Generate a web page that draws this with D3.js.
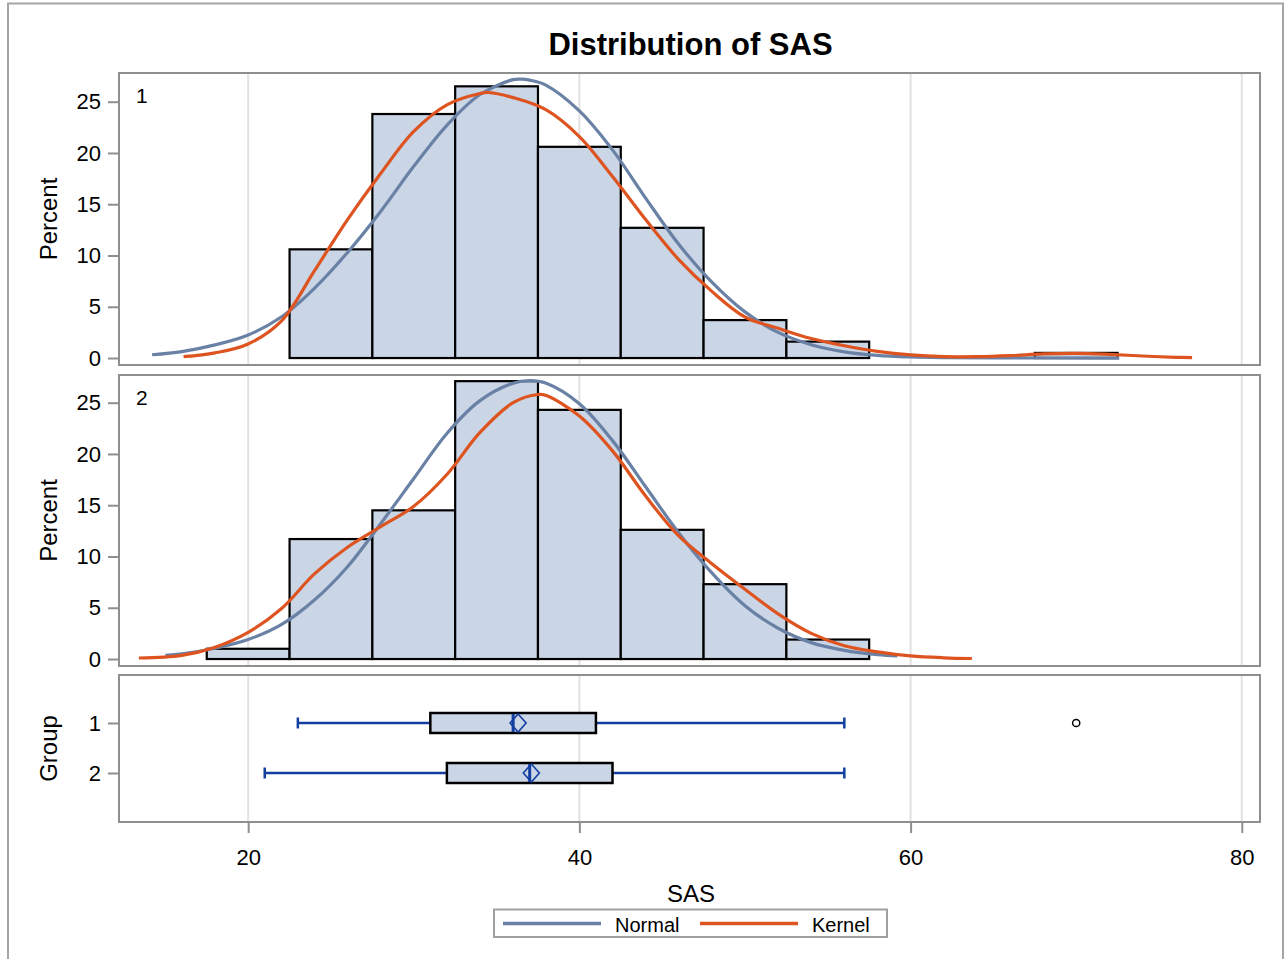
<!DOCTYPE html>
<html>
<head>
<meta charset="utf-8">
<script src="https://cdn.jsdelivr.net/npm/d3@7"></script>
<style>
  html, body { margin: 0; padding: 0; background: #fff; }
  svg text { font-family: "Liberation Sans", Arial, sans-serif; fill: #000; }
</style>
</head>
<body>
<svg id="chart" width="1285" height="959"></svg>
<script>
// ---- data ----
const groups = ["1", "2"];
const binLower = [17.5, 22.5, 27.5, 32.5, 37.5, 42.5, 47.5, 52.5, 57.5, 62.5, 67.5];
const binWidth = 5;
const percentGroup1 = [0, 10.6, 23.8, 26.5, 20.6, 12.7, 3.7, 1.6, 0, 0, 0.5];
const percentGroup2 = [1.0, 11.7, 14.5, 27.1, 24.3, 12.6, 7.3, 1.9, 0, 0, 0];

// fitted curves: [SAS, percent]
const normalGroup1 = [[14.2,0.32],[16,0.63],[18,1.28],[20,2.25],[22,4.0],[24,6.8],[26,10.3],[28,14.3],[30,18.7],[32,22.7],[34,25.7],[36,27.15],[36.5,27.2],[37,27.1],[38,26.6],[40,24.1],[42,20.3],[44,15.6],[46,11.1],[48,7.4],[50,4.5],[52,2.5],[54,1.3],[56,0.6],[58,0.25],[60,0.1],[62,0.04],[65,0.01],[72.6,0]];
const kernelGroup1 = [[16.1,0.13],[18,0.5],[20,1.37],[22,3.6],[24,8.5],[26,13.5],[28,18.0],[30,22.1],[32,24.7],[34,25.8],[34.5,25.9],[36,25.4],[38,24.2],[40,21.6],[42,17.7],[44,13.5],[46,9.6],[48,6.5],[50,4.0],[52,2.9],[54,1.9],[56,1.2],[58,0.65],[60,0.3],[62,0.13],[64,0.13],[66,0.23],[68,0.4],[70,0.46],[72,0.36],[74,0.2],[76,0.07],[77,0.03]];
const normalGroup2 = [[15,0.35],[16,0.5],[18,1.05],[20,1.9],[22,3.35],[24,5.75],[26,9.0],[28,13.2],[30,17.6],[32,22.0],[34,25.2],[36,26.9],[37,27.15],[38,26.9],[40,24.9],[42,21.3],[44,16.8],[46,12.3],[48,8.4],[50,5.2],[52,3.0],[54,1.6],[56,0.85],[58,0.43],[59.2,0.3]];
const kernelGroup2 = [[13.4,0.1],[16,0.36],[18,1.15],[20,2.6],[22,4.9],[24,8.3],[26,10.9],[28,12.9],[30,14.9],[32,18.0],[34,22.1],[36,25.0],[37.5,25.8],[38,25.7],[40,23.7],[42,20.3],[44,15.9],[46,12.0],[48,9.3],[50,6.8],[52,4.4],[54,2.5],[56,1.3],[58,0.7],[60,0.3],[62,0.12],[63.7,0.05]];

// box plot statistics per group
const whiskerLow = [23, 21];
const quartile1 = [31, 32];
const medians = [36, 37];
const quartile3 = [41, 42];
const whiskerHigh = [56, 56];
const means = [36.3, 37.1];
const outliers = [[70], []];

const xTicks = [20, 40, 60, 80];
const yTicks = [0, 5, 10, 15, 20, 25];

// ---- styling ----
const BAR_FILL = "#cad5e6";
const NORMAL_COLOR = "#6a81a6";
const KERNEL_COLOR = "#de5420";
const WHISKER_COLOR = "#123ea0";
const FRAME_COLOR = "#8f8f8f";
const GRID_COLOR = "#e2e2e2";

const svg = d3.select("#chart");

// outer frame
svg.append("rect")
  .attr("x", 8).attr("y", 3.5).attr("width", 1275).attr("height", 1000)
  .attr("fill", "none").attr("stroke", "#a6a6a6").attr("stroke-width", 2);

// title
svg.append("text")
  .attr("x", 690.5).attr("y", 55)
  .attr("text-anchor", "middle")
  .style("font-size", "31px").style("font-weight", "bold")
  .text("Distribution of SAS");

const left = 119, right = 1260;
const x = d3.scaleLinear().domain([12.2, 81.1]).range([left, right]);

const panels = [
  { top: 73, bottom: 365, yMax: 27.8, pct: percentGroup1, normal: normalGroup1, kernel: kernelGroup1, label: groups[0] },
  { top: 375, bottom: 666, yMax: 27.7, pct: percentGroup2, normal: normalGroup2, kernel: kernelGroup2, label: groups[1] }
];

function styleAxis(g) {
  g.select(".domain").remove();
  g.selectAll(".tick line").attr("stroke", FRAME_COLOR).attr("stroke-width", 2);
  g.selectAll(".tick text").style("font-size", "22px").attr("fill", "#000");
}

function gridlines(top, bottom) {
  svg.append("g").selectAll("line").data(xTicks).join("line")
    .attr("x1", d => x(d)).attr("x2", d => x(d))
    .attr("y1", top).attr("y2", bottom)
    .attr("stroke", GRID_COLOR).attr("stroke-width", 2);
}

const line = d3.line().curve(d3.curveCatmullRom.alpha(0.5));

panels.forEach(p => {
  const y = d3.scaleLinear().domain([-0.68, p.yMax]).range([p.bottom, p.top]);
  gridlines(p.top, p.bottom);

  // histogram bars (empty bins are not drawn)
  const bins = binLower.map((b, i) => ({ lo: b, hi: b + binWidth, v: p.pct[i] })).filter(d => d.v > 0);
  svg.append("g").selectAll("rect").data(bins).join("rect")
    .attr("x", d => x(d.lo)).attr("width", d => x(d.hi) - x(d.lo))
    .attr("y", d => y(d.v)).attr("height", d => y(0) - y(d.v))
    .attr("fill", BAR_FILL).attr("stroke", "#000").attr("stroke-width", 2.2);

  line.x(d => x(d[0])).y(d => y(d[1]));
  svg.append("path").attr("d", line(p.normal))
    .attr("fill", "none").attr("stroke", NORMAL_COLOR).attr("stroke-width", 3.2);
  svg.append("path").attr("d", line(p.kernel))
    .attr("fill", "none").attr("stroke", KERNEL_COLOR).attr("stroke-width", 3.2);

  // panel frame
  svg.append("rect")
    .attr("x", left).attr("y", p.top).attr("width", right - left).attr("height", p.bottom - p.top)
    .attr("fill", "none").attr("stroke", FRAME_COLOR).attr("stroke-width", 2);

  svg.append("g").attr("transform", `translate(${left},0)`)
    .call(d3.axisLeft(y).tickValues(yTicks).tickSize(11).tickPadding(7))
    .call(styleAxis);

  svg.append("text")
    .attr("x", 136).attr("y", p.top + 30)
    .style("font-size", "21px")
    .text(p.label);

  svg.append("text")
    .attr("transform", `translate(57,${(p.top + p.bottom) / 2}) rotate(-90)`)
    .attr("text-anchor", "middle")
    .style("font-size", "24px")
    .text("Percent");
});

// ---- box plot panel ----
const boxTop = 675, boxBottom = 822;
const gy = d3.scalePoint().domain(groups).range([723, 773]);
gridlines(boxTop, boxBottom);

const boxH = 20, capH = 11;
groups.forEach((g, i) => {
  const cy = gy(g);
  const gb = svg.append("g");
  // whiskers
  gb.append("line").attr("x1", x(whiskerLow[i])).attr("x2", x(quartile1[i]))
    .attr("y1", cy).attr("y2", cy).attr("stroke", WHISKER_COLOR).attr("stroke-width", 2.5);
  gb.append("line").attr("x1", x(quartile3[i])).attr("x2", x(whiskerHigh[i]))
    .attr("y1", cy).attr("y2", cy).attr("stroke", WHISKER_COLOR).attr("stroke-width", 2.5);
  [whiskerLow[i], whiskerHigh[i]].forEach(v => {
    gb.append("line").attr("x1", x(v)).attr("x2", x(v))
      .attr("y1", cy - capH / 2).attr("y2", cy + capH / 2)
      .attr("stroke", WHISKER_COLOR).attr("stroke-width", 2.5);
  });
  // box
  gb.append("rect")
    .attr("x", x(quartile1[i])).attr("width", x(quartile3[i]) - x(quartile1[i]))
    .attr("y", cy - boxH / 2).attr("height", boxH)
    .attr("fill", BAR_FILL).attr("stroke", "#000").attr("stroke-width", 2.5);
  // median
  gb.append("line").attr("x1", x(medians[i])).attr("x2", x(medians[i]))
    .attr("y1", cy - boxH / 2 + 1).attr("y2", cy + boxH / 2 - 1)
    .attr("stroke", WHISKER_COLOR).attr("stroke-width", 3);
  // mean marker
  const mx = x(means[i]);
  gb.append("path")
    .attr("d", `M${mx},${cy - 9} L${mx + 8},${cy} L${mx},${cy + 9} L${mx - 8},${cy} Z`)
    .attr("fill", "none").attr("stroke", WHISKER_COLOR).attr("stroke-width", 1.6);
  // outliers
  gb.selectAll("circle").data(outliers[i]).join("circle")
    .attr("cx", d => x(d)).attr("cy", cy).attr("r", 3.6)
    .attr("fill", "none").attr("stroke", "#000").attr("stroke-width", 1.5);
});

svg.append("rect")
  .attr("x", left).attr("y", boxTop).attr("width", right - left).attr("height", boxBottom - boxTop)
  .attr("fill", "none").attr("stroke", FRAME_COLOR).attr("stroke-width", 2);

svg.append("g").attr("transform", `translate(${left},0)`)
  .call(d3.axisLeft(gy).tickSize(11).tickPadding(7))
  .call(styleAxis);

svg.append("text")
  .attr("transform", `translate(57,${(boxTop + boxBottom) / 2}) rotate(-90)`)
  .attr("text-anchor", "middle")
  .style("font-size", "24px")
  .text("Group");

// x axis
svg.append("g").attr("transform", `translate(0,${boxBottom})`)
  .call(d3.axisBottom(x).tickValues(xTicks).tickSize(11).tickPadding(16))
  .call(styleAxis);

svg.append("text")
  .attr("x", 691).attr("y", 902)
  .attr("text-anchor", "middle")
  .style("font-size", "24px")
  .text("SAS");

// legend
const legend = svg.append("g");
legend.append("rect")
  .attr("x", 494).attr("y", 909.5).attr("width", 393).attr("height", 27.5)
  .attr("fill", "none").attr("stroke", "#a0a0a0").attr("stroke-width", 2);
const legendItems = [
  { name: "Normal", color: NORMAL_COLOR, x0: 503 },
  { name: "Kernel", color: KERNEL_COLOR, x0: 700 }
];
legendItems.forEach(it => {
  legend.append("line")
    .attr("x1", it.x0).attr("x2", it.x0 + 98).attr("y1", 923.5).attr("y2", 923.5)
    .attr("stroke", it.color).attr("stroke-width", 3.5);
  legend.append("text")
    .attr("x", it.x0 + 112).attr("y", 931.5)
    .style("font-size", "20px")
    .text(it.name);
});
</script>
</body>
</html>
